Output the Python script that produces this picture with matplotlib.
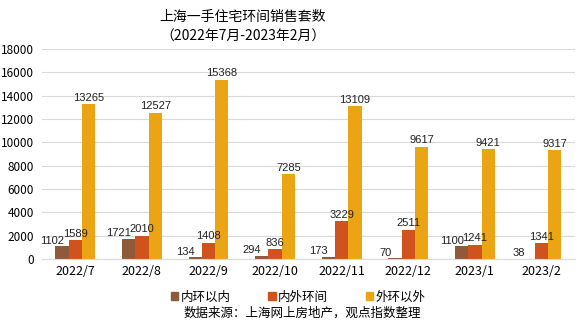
import numpy as np
import matplotlib
matplotlib.use("Agg")
import matplotlib.pyplot as plt
from matplotlib.patches import Patch

plt.rcParams['font.family'] = ['Noto Sans CJK SC', 'DejaVu Sans']

# 上海一手住宅环间销售套数
months = ["2022/7", "2022/8", "2022/9", "2022/10", "2022/11", "2022/12", "2023/1", "2023/2"]
inner = [1102, 1721, 134, 294, 173, 70, 1100, 38]          # 内环以内
middle = [1589, 2010, 1408, 836, 3229, 2511, 1241, 1341]   # 内外环间
outer = [13265, 12527, 15368, 7285, 13109, 9617, 9421, 9317]  # 外环以外
names = ["内环以内", "内外环间", "外环以外"]
colors = ["#8E5A3A", "#D0531E", "#EBA514"]

fig = plt.figure(figsize=(5.8, 3.26), dpi=100)
ax = fig.add_axes([0.0724, 0.2055, 0.9186, 0.6442])

x = np.arange(len(months))
w = 0.2
series = [inner, middle, outer]
for i, vals in enumerate(series):
    bars = ax.bar(x + (i - 1) * w, vals, w, color=colors[i], zorder=2)
    for b, v in zip(bars, vals):
        top = (b.get_x() + b.get_width() / 2, b.get_height())
        if i == 0:
            # 内环以内的标签挤在左边
            ax.annotate(str(v), top, xytext=(-7, 4), textcoords="offset points",
                        ha="center", va="center", fontsize=8,
                        family="Liberation Sans", color="#222222")
        else:
            ax.annotate(str(v), top, xytext=(0, 1), textcoords="offset points",
                        ha="center", va="bottom", fontsize=8,
                        family="Liberation Sans", color="#222222")

ax.set_xlim(-0.5, len(months) - 0.5)
ax.set_ylim(0, 18000)
ax.set_yticks(np.arange(0, 18001, 2000))
ax.set_xticks(x)
ax.set_xticklabels(months, fontsize=9)
ax.tick_params(axis="y", labelsize=8.5, length=0, pad=6)
ax.tick_params(axis="x", length=0, pad=4)
ax.grid(axis="y", color="#D9D9D9", linewidth=0.8, zorder=0)
for s in ["top", "right", "left"]:
    ax.spines[s].set_visible(False)
ax.spines["bottom"].set_color("#D9D9D9")

fig.text(242 / 580, 1 - 17 / 326, "上海一手住宅环间销售套数", ha="center", va="center", fontsize=10)
fig.text(243 / 580, 1 - 37 / 326, "（2022年7月-2023年2月）", ha="center", va="center", fontsize=10)

handles = [Patch(color=c, label=n) for c, n in zip(colors, names)]
fig.legend(handles=handles, loc="center", bbox_to_anchor=(298 / 580, 1 - 297 / 326),
           ncol=3, frameon=False, fontsize=9, handlelength=0.6, handleheight=0.6,
           handletextpad=0.2, columnspacing=3.0)

fig.text(302 / 580, 1 - 313 / 326, "数据来源：上海网上房地产，观点指数整理", ha="center", va="center", fontsize=9)

fig.savefig("out.png", dpi=100)
